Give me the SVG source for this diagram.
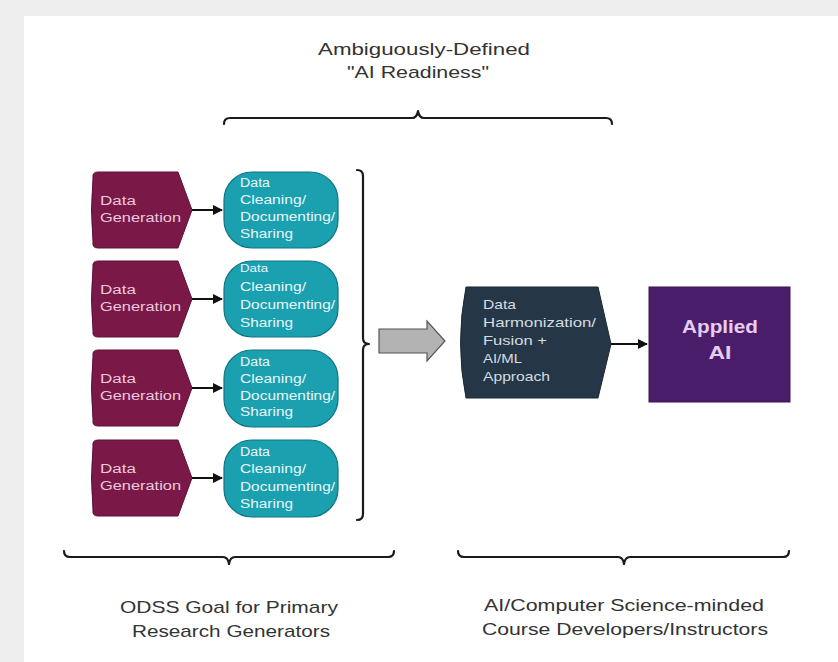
<svg xmlns="http://www.w3.org/2000/svg" width="838" height="662" viewBox="0 0 838 662">
<defs>
<style>
text{font-family:"Liberation Sans",Arial,sans-serif}
.gen{fill:#7a1848;stroke:#5e1036;stroke-width:1}
.gent{fill:#ecc9dc;font-size:12.5px}
.cln{fill:#1ba0b0;stroke:#0f7482;stroke-width:1.2}
.clnt{fill:#e8f7fa;font-size:12.5px}
.hxt{fill:#d5dce2;font-size:13px}
.lbl{fill:#333;font-size:17px;text-anchor:middle}
.brace{fill:none;stroke:#1a1a1a;stroke-width:2.2;stroke-linejoin:round;stroke-linecap:round}
.con{fill:none;stroke:#111;stroke-width:2}
</style>
<marker id="ah" viewBox="0 0 10 10" refX="9" refY="5" markerWidth="5" markerHeight="5" orient="auto"><path d="M0,0 L10,5 L0,10 Z" fill="#111"/></marker>
</defs>
<rect x="0" y="0" width="838" height="662" fill="#eeeeee"/>
<rect x="24" y="16" width="814" height="646" fill="#ffffff"/>

<g id="title">
<text class="lbl" x="424" y="55" textLength="212" lengthAdjust="spacingAndGlyphs">Ambiguously-Defined</text>
<text class="lbl" x="418" y="78" textLength="142" lengthAdjust="spacingAndGlyphs">"AI Readiness"</text>
</g>

<g id="braces">
<path class="brace" d="M224,124 Q224,118 230,118 L412,118 Q417,118 418,111 Q419,118 424,118 L606,118 Q612,118 612,124"/>
<path class="brace" d="M357,170 Q363,170 363,176 L363,338 Q363,344 369,344 Q363,344 363,350 L363,514 Q363,520 357,520"/>
<path class="brace" d="M64,551 Q64,557 70,557 L223,557 Q228,557 229,564 Q230,557 235,557 L388,557 Q394,557 394,551"/>
<path class="brace" d="M458,551 Q458,557 464,557 L618,557 Q623,557 624,564 Q625,557 630,557 L783,557 Q789,557 789,551"/>
</g>

<g id="gen1"><path class="gen" d="M98,172 L178,172 L192,210 L178,248 L98,248 Q92,248 93,242 Q90,210 93,178 Q92,172 98,172 Z"/><text class="gent" x="100" y="205" textLength="36" lengthAdjust="spacingAndGlyphs">Data</text><text class="gent" x="100" y="222" textLength="81" lengthAdjust="spacingAndGlyphs">Generation</text></g>
<g id="gen2"><path class="gen" d="M98,261 L178,261 L192,299 L178,337 L98,337 Q92,337 93,331 Q90,299 93,267 Q92,261 98,261 Z"/><text class="gent" x="100" y="294" textLength="36" lengthAdjust="spacingAndGlyphs">Data</text><text class="gent" x="100" y="311" textLength="81" lengthAdjust="spacingAndGlyphs">Generation</text></g>
<g id="gen3"><path class="gen" d="M98,350 L178,350 L192,388 L178,426 L98,426 Q92,426 93,420 Q90,388 93,356 Q92,350 98,350 Z"/><text class="gent" x="100" y="383" textLength="36" lengthAdjust="spacingAndGlyphs">Data</text><text class="gent" x="100" y="400" textLength="81" lengthAdjust="spacingAndGlyphs">Generation</text></g>
<g id="gen4"><path class="gen" d="M98,440 L178,440 L192,478 L178,516 L98,516 Q92,516 93,510 Q90,478 93,446 Q92,440 98,440 Z"/><text class="gent" x="100" y="473" textLength="36" lengthAdjust="spacingAndGlyphs">Data</text><text class="gent" x="100" y="490" textLength="81" lengthAdjust="spacingAndGlyphs">Generation</text></g>

<g id="clean1"><rect class="cln" x="224" y="172" width="114" height="76" rx="28"/><text class="clnt" x="240" y="187" textLength="30" lengthAdjust="spacingAndGlyphs">Data</text><text class="clnt" x="240" y="204" textLength="66" lengthAdjust="spacingAndGlyphs">Cleaning/</text><text class="clnt" x="240" y="221" textLength="95" lengthAdjust="spacingAndGlyphs">Documenting/</text><text class="clnt" x="240" y="238" textLength="53" lengthAdjust="spacingAndGlyphs">Sharing</text></g>
<g id="clean2"><rect class="cln" x="224" y="261" width="114" height="76" rx="28"/><text class="clnt" x="240" y="272" style="font-size:10px" textLength="28" lengthAdjust="spacingAndGlyphs">Data</text><text class="clnt" x="240" y="291" textLength="66" lengthAdjust="spacingAndGlyphs">Cleaning/</text><text class="clnt" x="240" y="309" textLength="95" lengthAdjust="spacingAndGlyphs">Documenting/</text><text class="clnt" x="240" y="327" textLength="53" lengthAdjust="spacingAndGlyphs">Sharing</text></g>
<g id="clean3"><rect class="cln" x="224" y="350" width="114" height="77" rx="28"/><text class="clnt" x="240" y="366" textLength="30" lengthAdjust="spacingAndGlyphs">Data</text><text class="clnt" x="240" y="383" textLength="66" lengthAdjust="spacingAndGlyphs">Cleaning/</text><text class="clnt" x="240" y="400" textLength="95" lengthAdjust="spacingAndGlyphs">Documenting/</text><text class="clnt" x="240" y="416" textLength="53" lengthAdjust="spacingAndGlyphs">Sharing</text></g>
<g id="clean4"><rect class="cln" x="224" y="440" width="114" height="77" rx="28"/><text class="clnt" x="240" y="456" textLength="30" lengthAdjust="spacingAndGlyphs">Data</text><text class="clnt" x="240" y="473" textLength="66" lengthAdjust="spacingAndGlyphs">Cleaning/</text><text class="clnt" x="240" y="491" textLength="95" lengthAdjust="spacingAndGlyphs">Documenting/</text><text class="clnt" x="240" y="508" textLength="53" lengthAdjust="spacingAndGlyphs">Sharing</text></g>

<g id="bigarrow"><path d="M379,329 L427,329 L427,321 L445,341 L427,361 L427,353 L379,353 Z" fill="#b3b3b3" stroke="#555" stroke-width="1.2"/></g>

<g id="harmonize"><path d="M466,287 L598,287 L611,344 L598,398 L466,398 Q455,343 466,287 Z" fill="#253746" stroke="#1a2833" stroke-width="1"/>
<text class="hxt" x="483" y="309" textLength="33" lengthAdjust="spacingAndGlyphs">Data</text>
<text class="hxt" x="483" y="327" textLength="113" lengthAdjust="spacingAndGlyphs">Harmonization/</text>
<text class="hxt" x="483" y="345" textLength="64" lengthAdjust="spacingAndGlyphs">Fusion +</text>
<text class="hxt" x="483" y="363" textLength="39" lengthAdjust="spacingAndGlyphs">AI/ML</text>
<text class="hxt" x="483" y="381" textLength="67" lengthAdjust="spacingAndGlyphs">Approach</text></g>

<g id="applied"><rect x="649" y="287" width="141" height="115" fill="#4a1d6b" stroke="#3b1456" stroke-width="1"/>
<text x="720" y="333" style="fill:#e6cdef;font-size:18px;font-weight:bold;text-anchor:middle" textLength="76" lengthAdjust="spacingAndGlyphs">Applied</text>
<text x="720" y="359" style="fill:#e6cdef;font-size:18px;font-weight:bold;text-anchor:middle" textLength="23" lengthAdjust="spacingAndGlyphs">AI</text></g>

<g id="connectors">
<line class="con" x1="192" y1="210" x2="222" y2="210" marker-end="url(#ah)"/>
<line class="con" x1="192" y1="299" x2="222" y2="299" marker-end="url(#ah)"/>
<line class="con" x1="192" y1="388" x2="222" y2="388" marker-end="url(#ah)"/>
<line class="con" x1="192" y1="478" x2="222" y2="478" marker-end="url(#ah)"/>
<line class="con" x1="611" y1="344" x2="647" y2="344" marker-end="url(#ah)"/>
</g>

<g id="footer">
<text class="lbl" x="229" y="613" textLength="218" lengthAdjust="spacingAndGlyphs">ODSS Goal for Primary</text>
<text class="lbl" x="231" y="637" textLength="198" lengthAdjust="spacingAndGlyphs">Research Generators</text>
<text class="lbl" x="624" y="611" textLength="280" lengthAdjust="spacingAndGlyphs">AI/Computer Science-minded</text>
<text class="lbl" x="625" y="635" textLength="286" lengthAdjust="spacingAndGlyphs">Course Developers/Instructors</text>
</g>
</svg>
